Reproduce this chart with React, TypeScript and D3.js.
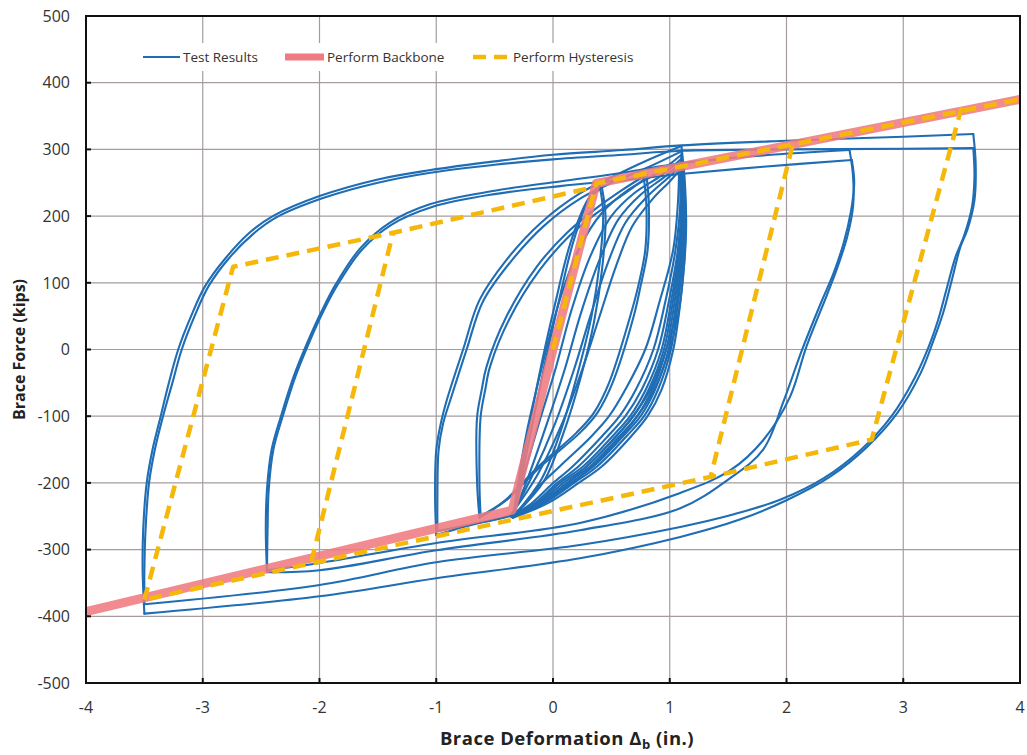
import React from 'react';
import * as d3 from 'd3';

type Pt = [number, number];

// Axis ticks
const xTicks = [-4, -3, -2, -1, 0, 1, 2, 3, 4];
const yTicks = [-500, -400, -300, -200, -100, 0, 100, 200, 300, 400, 500];

// PERFORM backbone (deformation in., force kips)
const backbone: Pt[] = [[-4, -393], [-0.35, -241], [0, 0], [0.37, 249], [4, 375]];

// PERFORM hysteresis, drawn as non-overlapping pieces so the dashes stay regular
const hysTension: Pt[] = [[0, 0], [0.37, 249], [4, 375]];
const hysUnload1: Pt[] = [[2.05, 305], [1.35, -191]];
const hysUnload2: Pt[] = [[3.5, 363], [2.73, -135], [1.35, -191], [-0.34, -255], [-3.5, -375]];
const hysUnload3: Pt[] = [[-2.07, -318], [-1.37, 175]];
const hysUnload4: Pt[] = [[-3.5, -375], [-2.74, 124], [-1.37, 175], [0.34, 243]];
const hysteresisPieces: Pt[][] = [hysTension, hysUnload1, hysUnload2, hysUnload3, hysUnload4];

// Test results: each cycle split into reloading (up) and unloading (down) branches
const d1Up: Pt[] = [[-3.5, -396], [-3.515, -330], [-3.51, -270], [-3.48, -200], [-3.43, -150], [-3.36, -100], [-3.29, -50], [-3.21, 0], [-3.1, 50], [-2.98, 95], [-2.8, 138], [-2.6, 175], [-2.4, 200], [-2.0, 230], [-1.5, 255], [-1.05, 269], [-0.5, 282], [0, 292], [0.6, 299], [1.1, 306], [2.0, 313], [3.0, 319], [3.6, 323]];
const d1Down: Pt[] = [[3.6, 323], [3.62, 280], [3.61, 224], [3.55, 180], [3.49, 154], [3.41, 100], [3.34, 54], [3.26, 14], [3.15, -35], [2.95, -95], [2.69, -146], [2.37, -191], [2.0, -226], [1.6, -255], [1.09, -281], [0.23, -313], [-1.0, -343], [-2.0, -370], [-3.5, -396]];
const d2Up: Pt[] = [[-3.5, -382], [-3.5, -330], [-3.49, -270], [-3.46, -200], [-3.41, -150], [-3.34, -100], [-3.26, -50], [-3.18, 0], [-3.07, 50], [-2.95, 95], [-2.77, 138], [-2.57, 173], [-2.37, 198], [-1.97, 227], [-1.5, 250], [-1.05, 265], [-0.5, 277], [0, 285], [0.6, 292], [1.1, 298], [2.0, 300], [3.0, 301], [3.6, 302]];
const d2Down: Pt[] = [[3.6, 302], [3.61, 260], [3.59, 215], [3.52, 170], [3.45, 140], [3.37, 90], [3.3, 45], [3.22, 5], [3.1, -42], [2.9, -100], [2.64, -150], [2.32, -193], [1.95, -225], [1.55, -247], [1.09, -266], [0.23, -293], [-1.0, -319], [-2.0, -353], [-3.5, -382]];

const c1Up: Pt[] = [[-2.45, -331], [-2.46, -270], [-2.45, -210], [-2.41, -150], [-2.33, -100], [-2.22, -40], [-2.1, 12], [-1.98, 58], [-1.86, 98], [-1.65, 152], [-1.4, 190], [-1.05, 218], [-0.5, 238], [0.06, 252], [0.6, 265], [1.09, 279], [1.8, 291], [2.54, 299]];
const c1Down: Pt[] = [[2.54, 299], [2.57, 260], [2.57, 214], [2.52, 169], [2.43, 120], [2.34, 79], [2.17, 4], [2.03, -71], [1.8, -136], [1.52, -181], [1.09, -215], [0.23, -260], [-1.0, -290], [-2.0, -320], [-2.45, -331]];
const c2Up: Pt[] = [[-2.45, -334], [-2.445, -270], [-2.435, -210], [-2.395, -150], [-2.315, -100], [-2.205, -40], [-2.085, 12], [-1.965, 58], [-1.845, 97], [-1.635, 150], [-1.385, 187], [-1.03, 214], [-0.5, 233], [0.06, 245], [0.6, 254], [1.09, 263], [1.8, 274], [2.56, 284]];
const c2Down: Pt[] = [[2.56, 284], [2.58, 250], [2.55, 205], [2.49, 160], [2.4, 113], [2.3, 72], [2.13, -2], [1.98, -75], [1.8, -150], [1.5, -195], [1.09, -238], [0.23, -271], [-1.0, -301], [-2.0, -331], [-2.45, -334]];

const b1Up: Pt[] = [[-1.0, -278], [-1.01, -220], [-1.0, -151], [-0.96, -110], [-0.91, -76], [-0.77, 0], [-0.63, 74], [-0.4, 134], [-0.11, 189], [0.23, 234], [0.51, 259], [0.8, 283], [1.1, 305]];
const b1Down: Pt[] = [[1.1, 305], [1.13, 250], [1.14, 180], [1.12, 120], [1.07, 50], [0.98, -10], [0.85, -65], [0.68, -110], [0.45, -155], [0.2, -195], [-0.05, -225], [-0.34, -248], [-0.7, -263], [-1.0, -278]];
const b2Up: Pt[] = [[-0.99, -272], [-0.99, -220], [-0.98, -151], [-0.94, -110], [-0.88, -76], [-0.74, 0], [-0.6, 72], [-0.37, 130], [-0.08, 185], [0.25, 228], [0.53, 252], [0.8, 272], [1.1, 297]];
const b2Down: Pt[] = [[1.1, 297], [1.12, 250], [1.13, 180], [1.1, 120], [1.05, 50], [0.95, -10], [0.82, -65], [0.64, -110], [0.41, -155], [0.16, -195], [-0.08, -226], [-0.35, -248], [-0.7, -262], [-0.99, -272]];

const e1Up: Pt[] = [[-0.63, -252], [-0.65, -200], [-0.65, -101], [-0.61, -60], [-0.57, -26], [-0.4, 49], [-0.14, 124], [0.12, 175], [0.35, 209], [0.6, 240], [0.8, 262]];
const e1Down: Pt[] = [[0.8, 262], [0.82, 220], [0.81, 149], [0.75, 95], [0.69, 49], [0.51, -50], [0.38, -95], [0.23, -125], [-0.11, -176], [-0.4, -226], [-0.63, -252]];
const e2Up: Pt[] = [[-0.62, -250], [-0.63, -200], [-0.62, -101], [-0.58, -60], [-0.54, -26], [-0.37, 47], [-0.11, 120], [0.14, 170], [0.37, 204], [0.6, 232], [0.78, 255]];
const e2Down: Pt[] = [[0.78, 255], [0.8, 215], [0.79, 149], [0.73, 95], [0.66, 49], [0.48, -50], [0.35, -95], [0.2, -125], [-0.13, -176], [-0.41, -226], [-0.62, -250]];

// repeated cycles between -0.35 in. and +1.1 in.
const a1Up: Pt[] = [[-0.34, -252], [-0.3, -200], [-0.22, -120], [-0.1, -30], [0.05, 70], [0.22, 150], [0.42, 205], [0.65, 240], [0.9, 265], [1.1, 292]];
const a2Up: Pt[] = [[-0.35, -252], [-0.26, -195], [-0.12, -110], [0.02, -30], [0.16, 60], [0.32, 140], [0.5, 200], [0.7, 235], [0.92, 260], [1.1, 286]];
const a3Up: Pt[] = [[-0.35, -251], [-0.22, -195], [-0.05, -110], [0.1, -30], [0.24, 55], [0.4, 135], [0.56, 195], [0.75, 232], [0.95, 258], [1.1, 280]];
const a4Up: Pt[] = [[-0.36, -250], [-0.18, -190], [0.02, -110], [0.18, -30], [0.32, 50], [0.47, 130], [0.62, 190], [0.8, 228], [0.97, 255], [1.09, 274]];
const a5Up: Pt[] = [[-0.37, -250], [-0.14, -190], [0.08, -110], [0.25, -30], [0.39, 45], [0.54, 125], [0.68, 185], [0.85, 225], [1.0, 252], [1.08, 268]];
const a1Down: Pt[] = [[1.1, 292], [1.13, 220], [1.13, 150], [1.09, 70], [1.03, 0], [0.93, -60], [0.81, -100], [0.67, -130], [0.42, -175], [0.22, -200], [-0.04, -230], [-0.34, -252]];
const a2Down: Pt[] = [[1.1, 289], [1.125, 220], [1.12, 150], [1.07, 70], [1.01, 0], [0.9, -60], [0.78, -100], [0.63, -130], [0.38, -175], [0.18, -200], [-0.07, -230], [-0.345, -252]];
const a3Down: Pt[] = [[1.1, 286], [1.12, 220], [1.11, 150], [1.055, 70], [0.99, 0], [0.875, -60], [0.75, -100], [0.6, -130], [0.35, -175], [0.15, -200], [-0.09, -230], [-0.35, -251]];
const a4Down: Pt[] = [[1.1, 283], [1.115, 220], [1.1, 150], [1.04, 70], [0.97, 0], [0.85, -60], [0.72, -100], [0.57, -130], [0.32, -175], [0.12, -200], [-0.11, -231], [-0.35, -251]];
const a5Down: Pt[] = [[1.09, 280], [1.11, 220], [1.09, 150], [1.025, 70], [0.95, 0], [0.82, -60], [0.69, -100], [0.54, -130], [0.29, -175], [0.09, -200], [-0.13, -231], [-0.355, -250]];
const a6Down: Pt[] = [[1.09, 277], [1.105, 220], [1.08, 150], [1.01, 70], [0.93, 0], [0.795, -60], [0.66, -100], [0.51, -130], [0.26, -175], [0.06, -200], [-0.15, -232], [-0.36, -250]];
const a7Down: Pt[] = [[1.09, 274], [1.1, 220], [1.07, 150], [0.99, 70], [0.9, 0], [0.76, -60], [0.62, -100], [0.47, -130], [0.22, -175], [0.03, -201], [-0.17, -232], [-0.36, -250]];
const a8Down: Pt[] = [[1.08, 271], [1.09, 220], [1.05, 150], [0.96, 70], [0.86, 0], [0.71, -60], [0.57, -100], [0.42, -130], [0.17, -175], [-0.01, -202], [-0.2, -233], [-0.365, -250]];
const a9Down: Pt[] = [[1.08, 268], [1.07, 220], [1.03, 150], [0.91, 70], [0.79, 0], [0.62, -60], [0.48, -100], [0.33, -130], [0.06, -175], [-0.12, -205], [-0.25, -234], [-0.37, -250]];

// small near-elastic cycles
const s1Up: Pt[] = [[-0.34, -250], [-0.25, -160], [-0.12, -40], [0.02, 70], [0.15, 160], [0.3, 225], [0.4, 245]];
const s1Down: Pt[] = [[0.4, 245], [0.43, 205], [0.4, 130], [0.33, 50], [0.22, -30], [0.07, -120], [-0.1, -195], [-0.34, -250]];
const s2Up: Pt[] = [[-0.33, -248], [-0.22, -150], [-0.08, -30], [0.06, 80], [0.18, 165], [0.32, 228], [0.42, 242]];
const s2Down: Pt[] = [[0.42, 242], [0.45, 200], [0.42, 120], [0.35, 40], [0.24, -40], [0.09, -125], [-0.08, -198], [-0.33, -248]];

const testBranches: Pt[][] = [
  s1Up, s1Down, s2Up, s2Down,
  a1Up, a2Up, a3Up, a4Up, a5Up,
  a1Down, a2Down, a3Down, a4Down, a5Down, a6Down, a7Down, a8Down, a9Down,
  e1Up, e1Down, e2Up, e2Down,
  b1Up, b1Down, b2Up, b2Down,
  c1Up, c1Down, c2Up, c2Down,
  d1Up, d1Down, d2Up, d2Down,
];

const W = 1027;
const H = 755;
const left = 86, right = 1020, top = 16, bottom = 683;

const BLUE = '#1f6db4';
const RED = '#ef7b80';
const YELLOW = '#f5b70a';
const GRID = '#a59d9d';
const FONT = '"Open Sans", "Noto Sans", sans-serif';

export default function App() {
  const x = d3.scaleLinear().domain([-4, 4]).range([left, right]);
  const y = d3.scaleLinear().domain([-500, 500]).range([bottom, top]);

  const smooth = d3.line<Pt>().x(d => x(d[0])).y(d => y(d[1])).curve(d3.curveCatmullRom.alpha(0.5));
  const straight = d3.line<Pt>().x(d => x(d[0])).y(d => y(d[1]));

  return (
    <svg width={W} height={H} style={{ position: 'absolute', left: 0, top: 0, background: '#fff' }}>
      <rect x={0} y={0} width={W} height={H} fill="#fff" />
      {/* grid */}
      {xTicks.map(t => (
        <line key={'gx' + t} x1={x(t)} x2={x(t)} y1={top} y2={bottom} stroke={GRID} strokeWidth={1.2} />
      ))}
      {yTicks.map(t => (
        <line key={'gy' + t} x1={left} x2={right} y1={y(t)} y2={y(t)} stroke={GRID} strokeWidth={1.2} />
      ))}
      {/* legend background */}
      <rect x={120} y={43} width={535} height={28} fill="#fff" />

      {/* test results */}
      <g fill="none" stroke={BLUE} strokeWidth={2.1} strokeLinejoin="round" strokeLinecap="round">
        {testBranches.map((b, i) => (
          <path key={'t' + i} d={smooth(b) || ''} />
        ))}
      </g>
      {/* backbone */}
      <path d={straight(backbone) || ''} fill="none" stroke={RED} strokeWidth={9} strokeOpacity={0.88} strokeLinejoin="round" />
      {/* hysteresis */}
      <g fill="none" stroke={YELLOW} strokeWidth={4.5} strokeDasharray="13 8" strokeLinejoin="round">
        {hysteresisPieces.map((p, i) => (
          <path key={'h' + i} d={straight(p) || ''} />
        ))}
      </g>

      {/* frame + ticks */}
      <rect x={left} y={top} width={right - left} height={bottom - top} fill="none" stroke="#111" strokeWidth={2} />
      {xTicks.map(t => (
        <line key={'tx' + t} x1={x(t)} x2={x(t)} y1={bottom} y2={bottom - 5} stroke="#111" strokeWidth={2} />
      ))}
      {yTicks.map(t => (
        <line key={'ty' + t} x1={left} x2={left + 5} y1={y(t)} y2={y(t)} stroke="#111" strokeWidth={2} />
      ))}

      {/* tick labels */}
      <g fontFamily={FONT} fontSize={16} fill="#333">
        {yTicks.map(t => (
          <text key={'ly' + t} x={70} y={y(t)} dy="0.36em" textAnchor="end">{t}</text>
        ))}
        {xTicks.map(t => (
          <text key={'lx' + t} x={x(t)} y={713} textAnchor="middle">{t}</text>
        ))}
      </g>

      {/* axis titles */}
      <text transform={`translate(25,${(top + bottom) / 2}) rotate(-90)`} textAnchor="middle" fontFamily={FONT} fontSize={16} fontWeight="bold" fill="#222">
        Brace Force (kips)
      </text>
      <text x={567} y={745} textAnchor="middle" fontFamily={FONT} fontSize={18.5} fontWeight="bold" letterSpacing={0.5} fill="#222">
        Brace Deformation Δ<tspan fontSize={13} dy={4}>b</tspan><tspan dy={-4}> (in.)</tspan>
      </text>

      {/* legend */}
      <g fontFamily={FONT} fontSize={13.5} fill="#333">
        <line x1={143} x2={180} y1={57} y2={57} stroke={BLUE} strokeWidth={2.2} />
        <text x={183} y={57} dy="0.35em">Test Results</text>
        <line x1={285} x2={324} y1={57} y2={57} stroke={RED} strokeWidth={7} />
        <text x={327} y={57} dy="0.35em">Perform Backbone</text>
        <line x1={473} x2={511} y1={57} y2={57} stroke={YELLOW} strokeWidth={4.5} strokeDasharray="13 8" />
        <text x={513} y={57} dy="0.35em">Perform Hysteresis</text>
      </g>
    </svg>
  );
}
